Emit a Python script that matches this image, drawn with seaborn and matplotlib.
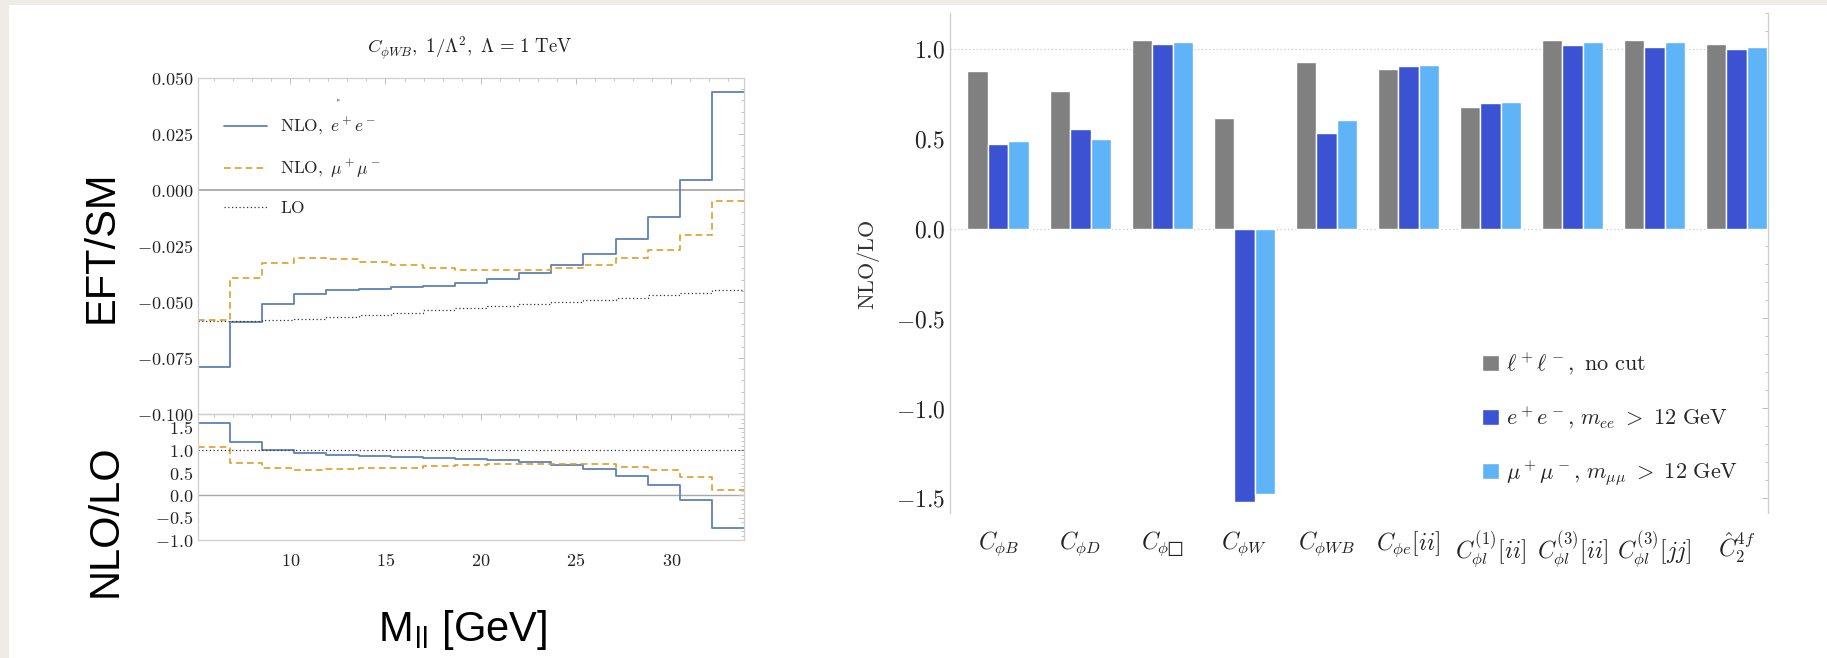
import numpy as np
import pandas as pd
import matplotlib
matplotlib.use("Agg")
import matplotlib.pyplot as plt
from matplotlib.patches import Rectangle
from matplotlib.ticker import MultipleLocator, FuncFormatter
import seaborn as sns

# ---------------- data ----------------
mll_edges = [5.16, 6.85, 8.53, 10.22, 11.90, 13.59, 15.28, 16.96, 18.65,
             20.33, 22.02, 23.71, 25.39, 27.08, 28.76, 30.45, 32.14, 33.82]

eft_nlo_ee = [-0.0791, -0.0590, -0.0507, -0.0466, -0.0448, -0.0442, -0.0433, -0.0428,
              -0.0413, -0.0397, -0.0370, -0.0336, -0.0287, -0.0219, -0.0121, 0.0045, 0.0436]
eft_nlo_mm = [-0.0582, -0.0391, -0.0325, -0.0303, -0.0310, -0.0321, -0.0336, -0.0348,
              -0.0355, -0.0358, -0.0355, -0.0348, -0.0334, -0.0304, -0.0266, -0.0201, -0.0049]
eft_lo = [-0.0585, -0.0585, -0.0582, -0.0575, -0.0567, -0.0560, -0.0549, -0.0537,
          -0.0528, -0.0519, -0.0510, -0.0500, -0.0490, -0.0481, -0.0470, -0.0458, -0.0448]

ratio_ee = [1.59, 1.17, 1.01, 0.93, 0.88, 0.87, 0.85, 0.83, 0.81, 0.78, 0.74, 0.66,
            0.57, 0.42, 0.22, -0.10, -0.74]
ratio_mm = [1.06, 0.72, 0.59, 0.56, 0.57, 0.59, 0.61, 0.64, 0.67, 0.69, 0.70, 0.70,
            0.69, 0.63, 0.55, 0.41, 0.11]
ratio_lo = [1.0] * 17

operators = [r"$C_{\phi B}$", r"$C_{\phi D}$", "$C_{\\phi \u25a1}$", r"$C_{\phi W}$",
             r"$C_{\phi WB}$", r"$C_{\phi e}[ii]$", r"$C_{\phi l}^{(1)}[ii]$",
             r"$C_{\phi l}^{(3)}[ii]$", r"$C_{\phi l}^{(3)}[jj]$", r"$\hat{C}_2^{4f}$"]
nlo_lo_nocut = [0.879, 0.768, 1.052, 0.615, 0.929, 0.887, 0.675, 1.052, 1.050, 1.026]
nlo_lo_ee = [0.472, 0.554, 1.028, -1.525, 0.532, 0.903, 0.699, 1.020, 1.013, 0.998]
nlo_lo_mm = [0.489, 0.496, 1.039, -1.480, 0.602, 0.911, 0.704, 1.037, 1.037, 1.011]
series_names = [r"$\ell^+\ell^-\mathrm{,\ no\ cut}$",
                r"$e^+e^-\mathrm{,}\ m_{ee}\ \mathrm{>\ 12\ GeV}$",
                r"$\mu^+\mu^-\mathrm{,}\ m_{\mu\mu}\ \mathrm{>\ 12\ GeV}$"]

# ---------------- style ----------------
sns.set_style("white")
plt.rcParams["mathtext.fontset"] = "cm"
plt.rcParams["font.family"] = ["DejaVu Serif"]

W, H = 1827, 658
fig = plt.figure(figsize=(W / 100, H / 100), dpi=100)
fig.patch.set_facecolor("#efece5")
fig.patches.append(Rectangle((9 / W, 0), 1 - 9 / W, 1 - 5 / H, transform=fig.transFigure,
                             facecolor="white", edgecolor="none", zorder=-10))


def px_axes(l, t, r, b):
    ax = fig.add_axes([l / W, 1 - b / H, (r - l) / W, (b - t) / H])
    ax.set_zorder(2)
    return ax


SPINE = "#cfcfcf"
BLUE_L = "#5E81B5"
ORANGE = "#E19C24"


def style_frame(ax, size):
    for s in ax.spines.values():
        s.set_color(SPINE)
        s.set_linewidth(0.9)
    ax.tick_params(which="both", direction="in", color="#bdbdbd", labelsize=size,
                   labelcolor="#222222", top=True, right=True)
    ax.tick_params(which="major", length=4, width=0.7)
    ax.tick_params(which="minor", length=2.2, width=0.6)
    ax.set_facecolor("none")


# ---------------- left: EFT/SM ----------------
ax_top = px_axes(198, 78, 744, 414)
ax_bot = px_axes(198, 414, 744, 540)

def step_vals(v):
    return list(v) + [v[-1]]

for vals, col, ls, lw, lab in [
        (eft_nlo_ee, BLUE_L, "-", 1.3, r"$\mathrm{NLO,}\ e^+e^-$"),
        (eft_nlo_mm, ORANGE, (0, (4, 2.5)), 1.2, r"$\mathrm{NLO,}\ \mu^+\mu^-$"),
        (eft_lo, "#333333", (0, (1, 2)), 0.9, r"$\mathrm{LO}$")]:
    sns.lineplot(x=mll_edges, y=step_vals(vals), ax=ax_top, drawstyle="steps-post",
                 color=col, linestyle=ls, linewidth=lw, label=lab,
                 estimator=None, sort=False)

for vals, col, ls, lw in [
        (ratio_ee, BLUE_L, "-", 1.3),
        (ratio_mm, ORANGE, (0, (4, 2.5)), 1.2),
        (ratio_lo, "#333333", (0, (1, 2)), 0.9)]:
    sns.lineplot(x=mll_edges, y=step_vals(vals), ax=ax_bot, drawstyle="steps-post",
                 color=col, linestyle=ls, linewidth=lw, estimator=None, sort=False,
                 legend=False)

ax_top.axhline(0.0, color="#a8a8a8", lw=1.3, zorder=0.5)
ax_bot.axhline(0.0, color="#a8a8a8", lw=1.0, zorder=0.5)

for ax in (ax_top, ax_bot):
    ax.set_xlim(5.16, 33.82)
    style_frame(ax, 13)
    ax.xaxis.set_major_locator(MultipleLocator(5))
    ax.xaxis.set_minor_locator(MultipleLocator(1))
    ax.set_xlabel("")
    ax.set_ylabel("")
    ax.tick_params(axis="y", pad=3.5)

ax_top.set_ylim(-0.100, 0.050)
ax_top.yaxis.set_major_locator(MultipleLocator(0.025))
ax_top.yaxis.set_minor_locator(MultipleLocator(0.005))
ax_top.yaxis.set_major_formatter(FuncFormatter(lambda v, p: f"${v:.3f}$"))
ax_top.tick_params(axis="x", labelbottom=False)

ax_bot.set_ylim(-1.0, 1.8)
ax_bot.yaxis.set_major_locator(MultipleLocator(0.5))
ax_bot.yaxis.set_minor_locator(MultipleLocator(0.1))
ax_bot.yaxis.set_major_formatter(FuncFormatter(lambda v, p: f"${v:.1f}$"))
ax_bot.xaxis.set_major_formatter(FuncFormatter(lambda v, p: f"${v:.0f}$"))
ax_bot.tick_params(axis="x", pad=9)

leg = ax_top.legend(loc="upper left", bbox_to_anchor=(224 / W, 1 - 116 / H),
                    bbox_transform=fig.transFigure, frameon=False, fontsize=12.5,
                    handlelength=2.45, handletextpad=0.75, labelspacing=1.15,
                    borderpad=0, borderaxespad=0)

fig.text(470 / W, 1 - 48 / H,
         r"$C_{\phi WB},\ 1/\Lambda^2,\ \Lambda\,=\,1\ \mathrm{TeV}$",
         ha="center", va="center", fontsize=13.5, color="#222222")
fig.text(339 / W, 1 - 100 / H, "\u25b8", ha="center", va="center", fontsize=5,
         color="#999999", family="DejaVu Sans")

fig.text(102 / W, 1 - 247 / H, "EFT/SM", rotation=90, ha="center", va="center",
         fontsize=30, family="Liberation Sans", color="black")
fig.text(106 / W, 1 - 521 / H, "NLO/LO", rotation=90, ha="center", va="center",
         fontsize=30, family="Liberation Sans", color="black")
fig.text(463 / W, 1 - 630 / H, r"M$_{\mathregular{ll}}$ [GeV]", ha="center",
         va="center", fontsize=30, family="Liberation Sans", color="black")

# ---------------- right: NLO/LO bars ----------------
axr = px_axes(950, 13, 1768, 513)
bars = pd.DataFrame({
    "operator": operators * 3,
    "value": nlo_lo_nocut + nlo_lo_ee + nlo_lo_mm,
    "series": [series_names[0]] * 10 + [series_names[1]] * 10 + [series_names[2]] * 10,
})
sns.barplot(data=bars, x="operator", y="value", hue="series", hue_order=series_names,
            palette=["#808080", "#3B53D3", "#5FB4F7"], width=0.75, saturation=1,
            ax=axr, legend=True, zorder=2)

axr.axhline(1.0, color="#cccccc", lw=0.9, ls=(0, (1, 2)), zorder=1)
axr.axhline(0.0, color="#cccccc", lw=0.9, ls=(0, (1, 2)), zorder=1)
axr.set_xlim(-0.588, 9.383)
axr.set_ylim(-1.584, 1.20)
style_frame(axr, 17)
axr.spines["top"].set_visible(False)
axr.spines["bottom"].set_visible(False)
axr.yaxis.set_major_locator(MultipleLocator(0.5))
axr.yaxis.set_minor_locator(MultipleLocator(0.1))
axr.yaxis.set_major_formatter(FuncFormatter(lambda v, p: f"${v:.1f}$"))
axr.tick_params(axis="y", pad=3.5)
axr.tick_params(axis="x", which="both", length=0, pad=12, labelsize=17)
axr.set_xlabel("")
axr.set_ylabel("")
fig.text(868 / W, 1 - 265 / H, r"$\mathrm{NLO/LO}$", rotation=90, ha="center",
         va="center", fontsize=16, color="#333333")

handles, labels = axr.get_legend_handles_labels()
axr.legend(handles, labels, loc="upper left", bbox_to_anchor=(1482 / W, 1 - 351 / H),
           bbox_transform=fig.transFigure, frameon=False, fontsize=16,
           handlelength=0.75, handleheight=0.75, handletextpad=0.35,
           labelspacing=1.25, borderpad=0, borderaxespad=0)

fig.savefig("out.png", dpi=100, facecolor=fig.get_facecolor())
